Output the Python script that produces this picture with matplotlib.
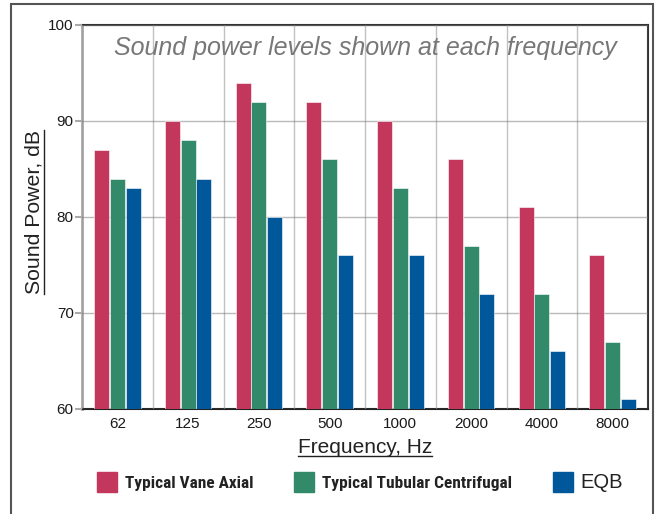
import matplotlib.pyplot as plt
import matplotlib.patches as mpatches
from matplotlib.lines import Line2D
import numpy as np
from matplotlib import font_manager

plt.rcParams['font.family'] = ['Liberation Sans', 'DejaVu Sans']

freqs = ["62", "125", "250", "500", "1000", "2000", "4000", "8000"]
vane_axial = [87, 90, 94, 92, 90, 86, 81, 76]
tubular = [84, 88, 92, 86, 83, 77, 72, 67]
eqb = [83, 84, 80, 76, 76, 72, 66, 61]

series = [
    ("Typical Vane Axial", vane_axial, "#c4375c"),
    ("Typical Tubular Centrifugal", tubular, "#338a6b"),
    ("EQB", eqb, "#00589b"),
]

# condensed face for the legend, if one is around
names = {f.name for f in font_manager.fontManager.ttflist}
legend_font, legend_size = "Liberation Sans", 10.5
for cand in ["Roboto Condensed", "Archivo Narrow", "PT Sans Narrow",
             "Open Sans Condensed", "Liberation Sans Narrow", "Arimo Narrow"]:
    if cand in names:
        legend_font, legend_size = cand, 12.4
        break

W, H = 658, 514
fig = plt.figure(figsize=(W / 100, H / 100), dpi=100)
ax = fig.add_axes([82 / W, 1 - 409 / H, 566 / W, 384 / H])

x = np.arange(len(freqs))
bw = 0.212
step = 0.222
handles = []
for i, (label, vals, color) in enumerate(series):
    ax.bar(x + (i - 1) * step, np.array(vals) - 60, bottom=60, width=bw,
           color=color, edgecolor="white", linewidth=0.4, zorder=3, label=label)
    handles.append(mpatches.Patch(color=color, label=label))

ax.set_xlim(-0.5, len(freqs) - 0.5)
ax.set_ylim(60, 100)
ax.set_yticks([60, 70, 80, 90, 100])
ax.set_xticks(x)
ax.set_xticklabels(freqs)
ax.set_xticks(np.arange(len(freqs) + 1) - 0.5, minor=True)
ax.tick_params(axis="x", which="both", length=0, labelsize=11, colors="#1a1a1a", pad=6)
ax.tick_params(axis="y", length=5, width=1.5, color="#aaaaaa", labelsize=11,
               labelcolor="#1a1a1a", pad=1)

ax.set_axisbelow(False)
ax.grid(axis="y", color="#777777", linewidth=1, alpha=0.5)
ax.grid(axis="x", which="minor", color="#999999", linewidth=1, alpha=0.6)

ax.spines["left"].set_color("#aaaaaa")
ax.spines["left"].set_linewidth(2)
ax.spines["bottom"].set_color("#222222")
ax.spines["bottom"].set_linewidth(1.5)
for s in ("top", "right"):
    ax.spines[s].set_color("#333333")
    ax.spines[s].set_linewidth(1.5)

ax.text(0.5, 0.94, "Sound power levels shown at each frequency", transform=ax.transAxes,
        ha="center", va="center", fontsize=18, style="italic", color="#777777", zorder=5)

ylab = ax.set_ylabel("Sound Power, dB", fontsize=15.3, color="#222222")
ax.yaxis.set_label_coords((43 - 82) / 566, (409 - 212) / 384)
xlab = ax.set_xlabel("Frequency, Hz", fontsize=15, color="#222222", labelpad=5)

leg = fig.legend(handles=handles, loc="center left", bbox_to_anchor=(97 / W, 1 - 482 / H),
                 ncol=3, frameon=False, borderpad=0, borderaxespad=0,
                 handlelength=1.15, handleheight=1.4,
                 handletextpad=0.45, columnspacing=2.4,
                 prop={"family": legend_font, "size": legend_size, "weight": "bold"},
                 labelcolor="#222222")
# "EQB" is set in the plain face in the original
t = leg.get_texts()[2]
t.set_fontfamily("Liberation Sans")
t.set_fontweight("normal")
t.set_fontsize(14.5)

frame = mpatches.Rectangle((11 / W, -0.05), (653 - 11) / W, 1.05 - 4 / H,
                           transform=fig.transFigure, fill=False,
                           edgecolor="#555555", linewidth=1.5)
fig.patches.append(frame)

# underline the axis labels
fig.canvas.draw()
r = fig.canvas.get_renderer()
bb = xlab.get_window_extent(r)
fig.add_artist(Line2D([bb.x0 / W, bb.x1 / W], [(bb.y0 + 1) / H] * 2, color="#222222", lw=1))
bb = ylab.get_window_extent(r)
fig.add_artist(Line2D([(bb.x1 + 1) / W] * 2, [bb.y0 / H, bb.y1 / H], color="#222222", lw=1))

fig.savefig("out.png", dpi=100)
